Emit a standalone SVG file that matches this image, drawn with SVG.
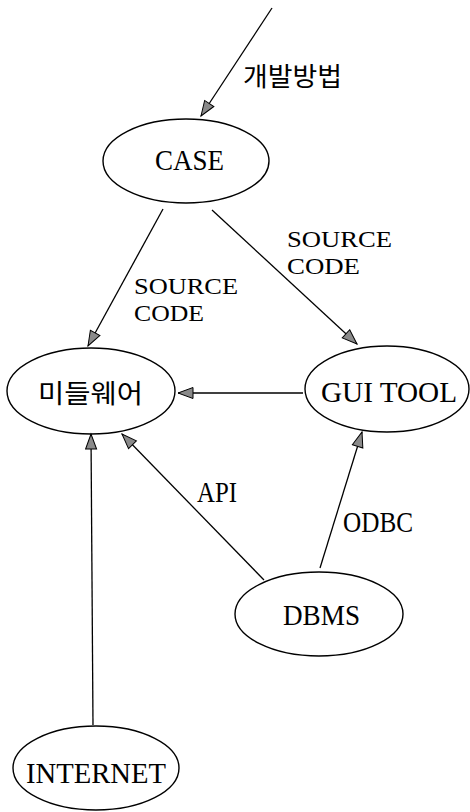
<svg xmlns="http://www.w3.org/2000/svg" width="470" height="812" viewBox="0 0 470 812">
<style>
.node ellipse{fill:none;stroke:#000;stroke-width:1.4}
.lbl{font-family:"Liberation Serif","Times New Roman",serif;font-size:29px;fill:#000}
.lbl2{font-family:"Liberation Serif","Times New Roman",serif;font-size:24px;fill:#000}
.ko{font-family:"Noto Sans CJK KR","Noto Sans",sans-serif;font-size:26px;fill:#000}
.edges line{stroke:#000;stroke-width:1.3;marker-end:url(#arr)}
</style>
<defs>
<marker id="arr" markerUnits="userSpaceOnUse" markerWidth="18" markerHeight="14" refX="16" refY="6.5" orient="auto">
<path d="M1,1 L16,6.5 L1,12 z" fill="#8a8a8a" stroke="#000" stroke-width="1"/>
</marker>
</defs>
<rect width="470" height="812" fill="#fff"/>
<g class="edges" id="connectors">
<line x1="272" y1="8" x2="201" y2="116"/>
<line x1="163" y1="209" x2="88" y2="346"/>
<line x1="212" y1="210" x2="357" y2="344"/>
<line x1="303" y1="393" x2="178" y2="393"/>
<line x1="264" y1="580" x2="122" y2="434"/>
<line x1="320" y1="568" x2="362" y2="432"/>
<line x1="93" y1="725" x2="91" y2="434"/>
</g>
<g id="edge-labels">
<text class="ko" x="243" y="86" textLength="99" lengthAdjust="spacingAndGlyphs">개발방법</text>
<text class="lbl2"><tspan x="287" y="247" textLength="105" lengthAdjust="spacingAndGlyphs">SOURCE</tspan><tspan x="287" y="274" textLength="73" lengthAdjust="spacingAndGlyphs">CODE</tspan></text>
<text class="lbl2"><tspan x="134" y="294" textLength="104" lengthAdjust="spacingAndGlyphs">SOURCE</tspan><tspan x="134" y="321" textLength="70" lengthAdjust="spacingAndGlyphs">CODE</tspan></text>
<text class="lbl" x="197" y="502" textLength="40" lengthAdjust="spacingAndGlyphs">API</text>
<text class="lbl" x="343" y="532" textLength="70" lengthAdjust="spacingAndGlyphs">ODBC</text>
</g>
<g class="node" id="case">
<ellipse cx="186" cy="161" rx="83" ry="42"/>
<text class="lbl" x="155" y="170" textLength="69" lengthAdjust="spacingAndGlyphs">CASE</text>
</g>
<g class="node" id="middleware">
<ellipse cx="91" cy="391" rx="84" ry="43"/>
<text class="ko" x="38" y="403" textLength="105" lengthAdjust="spacingAndGlyphs">미들웨어</text>
</g>
<g class="node" id="guitool">
<ellipse cx="387" cy="389" rx="82" ry="43"/>
<text class="lbl" x="321" y="402" textLength="136" lengthAdjust="spacingAndGlyphs">GUI TOOL</text>
</g>
<g class="node" id="dbms">
<ellipse cx="319" cy="614" rx="84" ry="42"/>
<text class="lbl" x="283" y="625" textLength="77" lengthAdjust="spacingAndGlyphs">DBMS</text>
</g>
<g class="node" id="internet">
<ellipse cx="96" cy="768" rx="83" ry="42"/>
<text class="lbl" x="26" y="783" textLength="140" lengthAdjust="spacingAndGlyphs">INTERNET</text>
</g>
</svg>
